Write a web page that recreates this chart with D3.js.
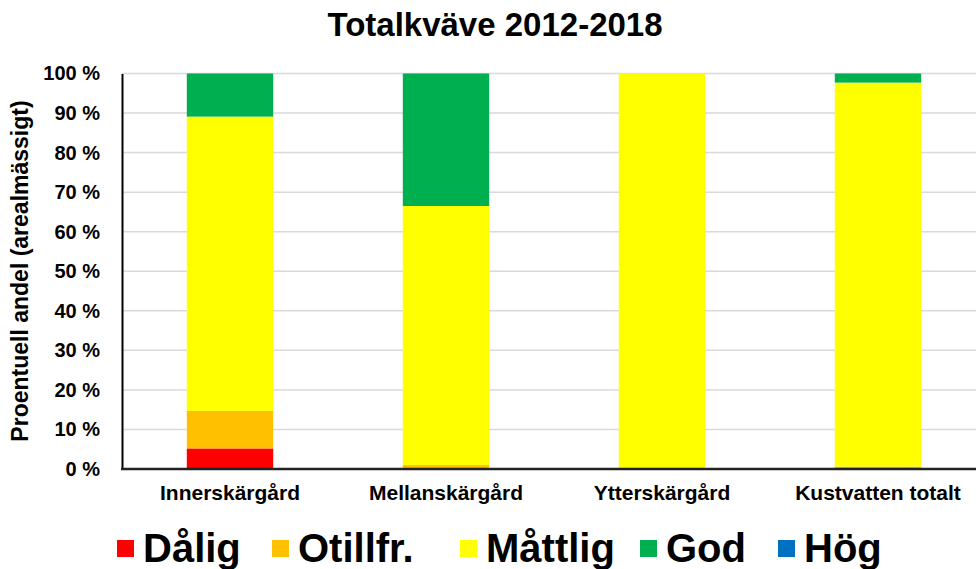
<!DOCTYPE html>
<html>
<head>
<meta charset="utf-8">
<script src="https://cdn.jsdelivr.net/npm/d3@7"></script>
<style>
  body { margin: 0; background: #fff; }
  svg { font-family: "Liberation Sans", Arial, sans-serif; font-weight: bold; }
</style>
</head>
<body>
<div id="chart"></div>
<script>
// data
const categories = ["Innerskärgård", "Mellanskärgård", "Ytterskärgård", "Kustvatten totalt"];
const classes = ["Dålig", "Otillfr.", "Måttlig", "God", "Hög"];
const colors = ["#ff0000", "#ffc000", "#ffff00", "#00b050", "#0070c0"];
const dalig   = [5.2, 0.0, 0.0, 0.2];
const otillfr = [9.5, 1.0, 0.0, 0.4];
const mattlig = [74.4, 65.5, 100.0, 97.1];
const god     = [10.9, 33.5, 0.0, 2.3];
const hog     = [0.0, 0.0, 0.0, 0.0];
const yTicks = [0, 10, 20, 30, 40, 50, 60, 70, 80, 90, 100];

const width = 976, height = 569;
const plotLeft = 122, plotRight = 986, plotTop = 73.5, plotBottom = 469;

const svg = d3.select("#chart").append("svg")
  .attr("width", width)
  .attr("height", height);

let rows = categories.map((c, i) => ({
  cat: c, "Dålig": dalig[i], "Otillfr.": otillfr[i], "Måttlig": mattlig[i], "God": god[i], "Hög": hog[i]
}));
let stacked = d3.stack().keys(classes)(rows);

let xScale = d3.scaleBand()
  .domain(categories)
  .range([plotLeft, plotRight])
  .paddingInner(0.6)
  .paddingOuter(0.3);
let yScale = d3.scaleLinear()
  .domain([0, 100])
  .range([plotBottom, plotTop]);

// gridlines
svg.append("g")
  .selectAll("line")
  .data(yTicks.slice(1))
  .enter().append("line")
  .attr("x1", plotLeft)
  .attr("x2", width)
  .attr("y1", d => yScale(d))
  .attr("y2", d => yScale(d))
  .style("stroke", "#d9d9d9")
  .style("stroke-width", 1.5);

// bars
let layer = svg.append("g").selectAll("g")
  .data(stacked)
  .enter().append("g")
  .attr("fill", (d, i) => colors[i]);
layer.selectAll("rect")
  .data(d => d)
  .enter().append("rect")
  .attr("x", d => xScale(d.data.cat))
  .attr("width", xScale.bandwidth())
  .attr("y", d => yScale(d[1]))
  .attr("height", d => yScale(d[0]) - yScale(d[1]));

// y axis
let yAxis = d3.axisLeft(yScale)
  .tickValues(yTicks)
  .tickSize(0)
  .tickPadding(22)
  .tickFormat(d => d + " %");
let gY = svg.append("g")
  .attr("transform", `translate(${plotLeft}, 0)`)
  .call(yAxis);
gY.select(".domain").style("stroke", "#000").style("stroke-width", 2);
gY.selectAll("text")
  .style("font-size", "20px")
  .style("font-weight", "bold")
  .style("font-family", "Liberation Sans, Arial, sans-serif")
  .attr("fill", "#000");

// x axis
let xAxis = d3.axisBottom(xScale).tickSize(0).tickPadding(16);
let gX = svg.append("g")
  .attr("transform", `translate(0, ${plotBottom})`)
  .call(xAxis);
gX.select(".domain").attr("d", `M${plotLeft - 1},0H${width}`)
  .style("stroke", "#222").style("stroke-width", 2.5);
gX.selectAll("text")
  .style("font-size", "21px")
  .style("font-weight", "bold")
  .style("font-family", "Liberation Sans, Arial, sans-serif")
  .attr("fill", "#000");

// title
svg.append("text")
  .attr("x", 495)
  .attr("y", 36)
  .attr("text-anchor", "middle")
  .style("font-size", "33px")
  .text("Totalkväve 2012-2018");

// y label
svg.append("text")
  .attr("transform", `translate(28, 271) rotate(-90)`)
  .attr("text-anchor", "middle")
  .style("font-size", "23px")
  .text("Proentuell andel (arealmässigt)");

// legend
let legendX = [117, 272, 460, 640, 778];
let legend = svg.append("g").selectAll("g")
  .data(classes)
  .enter().append("g")
  .attr("transform", (d, i) => `translate(${legendX[i]}, 540)`);
legend.append("rect")
  .attr("width", 17)
  .attr("height", 17)
  .attr("fill", (d, i) => colors[i]);
legend.append("text")
  .attr("x", 26)
  .attr("y", 22)
  .style("font-size", "40px")
  .text(d => d);
</script>
</body>
</html>
